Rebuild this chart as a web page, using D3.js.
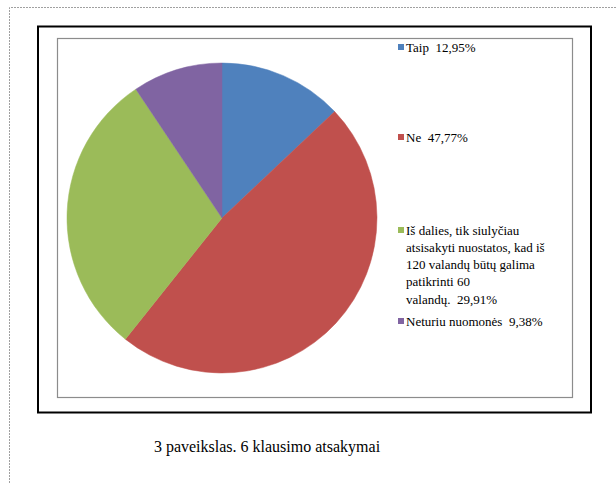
<!DOCTYPE html>
<html lang="lt">
<head>
<meta charset="utf-8">
<script src="https://cdn.jsdelivr.net/npm/d3@7"></script>
</head>
<body style="margin:0">
<script>
/* DATA */
const categories = ["Taip", "Ne", "Iš dalies, tik siulyčiau atsisakyti nuostatos, kad iš 120 valandų būtų galima patikrinti 60 valandų.", "Neturiu nuomonės"];
const values = [12.95, 47.77, 29.91, 9.38];
const valueLabels = ["12,95%", "47,77%", "29,91%", "9,38%"];
const legendLines = [
  ["Taip\u00a0 12,95%"],
  ["Ne\u00a0 47,77%"],
  ["Iš dalies, tik siulyčiau", "atsisakyti nuostatos, kad iš", "120 valandų būtų galima", "patikrinti 60", "valandų.\u00a0 29,91%"],
  ["Neturiu nuomonės\u00a0 9,38%"]
];
const colors = ["#4F81BD", "#C0504D", "#9BBB59", "#8064A2"];
const caption = "3 paveikslas. 6 klausimo atsakymai";

/* LAYOUT */
const width = 616, height = 483;
const cx = 222, cy = 218, radius = 155;
const legendX = 398, legendTops = [47, 137, 230, 321], lineH = 17.3;

const svg = d3.select("body").append("svg")
  .attr("width", width)
  .attr("height", height);

// dotted page frame
svg.append("path")
  .attr("d", `M9.5,${height} L9.5,7.5 L${width},7.5`)
  .attr("fill", "none")
  .attr("stroke", "#a0a0a0")
  .attr("stroke-dasharray", "2,1");

// outer black border
svg.append("rect")
  .attr("x", 38).attr("y", 26.5)
  .attr("width", 553).attr("height", 386)
  .attr("fill", "none")
  .attr("stroke", "#000")
  .attr("stroke-width", 2);

// chart area border
svg.append("rect")
  .attr("x", 57.5).attr("y", 38.5)
  .attr("width", 515).attr("height", 359)
  .attr("fill", "#fff")
  .attr("stroke", "#8c8c8c")
  .attr("stroke-width", 1.2);

/* PIE */
const pie = d3.pie().sort(null).value(d => d)(values);
const arc = d3.arc().innerRadius(0).outerRadius(radius);

svg.append("g")
  .attr("transform", `translate(${cx},${cy})`)
  .selectAll("path")
  .data(pie)
  .join("path")
  .attr("d", arc)
  .attr("fill", (d, i) => colors[i])
  .attr("stroke", (d, i) => colors[i])
  .attr("stroke-width", 0.5);

/* LEGEND */
legendLines.forEach((lines, i) => {
  const top = legendTops[i];
  svg.append("rect")
    .attr("x", legendX).attr("y", top - 3)
    .attr("width", 6).attr("height", 6)
    .attr("fill", colors[i]);
  lines.forEach((ln, j) => {
    svg.append("text")
      .attr("x", legendX + 8)
      .attr("y", top + 4.5 + j * lineH)
      .attr("font-family", "Liberation Serif")
      .attr("font-size", 13)
      .text(ln);
  });
});

/* CAPTION */
svg.append("text")
  .attr("x", 267)
  .attr("y", 452)
  .attr("text-anchor", "middle")
  .attr("font-family", "Liberation Serif")
  .attr("font-size", 16)
  .text(caption);
</script>
</body>
</html>
